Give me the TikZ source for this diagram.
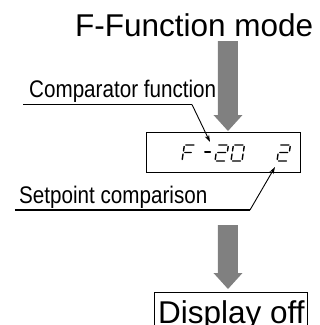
\documentclass[tikz,border=0pt]{standalone}
\usepackage{fontspec}
\setmainfont{Liberation Sans}
\newfontfamily\narrowfont[FakeStretch=0.86]{Liberation Sans}
\usetikzlibrary{arrows.meta}
\definecolor{arrowgray}{HTML}{808080}
\tikzset{
  lbl/.style={inner sep=0pt, anchor=base west},
  bigtext/.style={lbl, font=\fontsize{31.5}{31.5}\selectfont},
  smalltext/.style={lbl, font=\narrowfont\fontsize{24}{24}\selectfont},
  blockarrow/.style={fill=arrowgray},
  uline/.style={line width=1.6pt},
  pointer/.style={line width=0.9pt, -{Stealth[length=7pt,width=4.5pt]}},
  seg/.style={line width=1.4pt, line cap=round},
  segF/.pic={\draw[seg] (0,1.5)--(0,7) (0,10)--(0,14.5) (1.5,16)--(9.5,16) (1.5,8.5)--(8,8.5);},
  segDash/.pic={\draw[seg] (0,9)--(5.5,9);},
  segTwo/.pic={\draw[seg] (1.5,16)--(9.5,16) (11,14.5)--(11,10) (1.5,8.5)--(9.5,8.5) (0,7)--(0,1.5) (1.5,0)--(9.5,0);},
  segZero/.pic={\draw[seg] (1.5,16)--(9.5,16) (11,14.5)--(11,10) (11,7)--(11,1.5) (1.5,0)--(9.5,0) (0,1.5)--(0,7) (0,10)--(0,14.5);},
}
\begin{document}
\begin{tikzpicture}[x=1pt,y=-1pt]
\useasboundingbox (0,0) rectangle (320,325);

% title
\node[bigtext] (title) at (75,36) {F-Function mode};

% top block arrow
\fill[blockarrow] (218,41) -- (238,41) -- (238,115) -- (242.5,115) -- (228,131) -- (213.5,115) -- (218,115) -- cycle;

% display box
\node[draw, line width=0.8pt, minimum width=154pt, minimum height=40pt, inner sep=0pt, anchor=north west] (disp) at (146,132) {};

% seven segment digits
\begin{scope}[shift={(182,161)}, x={(1pt,0pt)}, y={(0.15pt,1pt)}] \pic {segF}; \end{scope}
\begin{scope}[shift={(203.5,161)}, x={(1pt,0pt)}, y={(0.15pt,1pt)}] \pic {segDash}; \end{scope}
\begin{scope}[shift={(215,161)}, x={(1pt,0pt)}, y={(0.15pt,1pt)}] \pic {segTwo}; \end{scope}
\begin{scope}[shift={(231,161)}, x={(1pt,0pt)}, y={(0.15pt,1pt)}] \pic {segZero}; \end{scope}
\begin{scope}[shift={(277,161)}, x={(1pt,0pt)}, y={(0.15pt,1pt)}] \pic {segTwo}; \end{scope}

% comparator label
\node[smalltext] (cmp) at (29,97) {Comparator function};
\coordinate (cmpA) at (23,104.5);
\coordinate (cmpB) at (192,104.5);
\coordinate (cmpTip) at (210,142);
\draw[uline] (cmpA) -- (cmpB);
\draw[pointer] (cmpB) -- (cmpTip);

% setpoint label
\node[smalltext] (set) at (19,203) {Setpoint comparison};
\coordinate (setA) at (15,210);
\coordinate (setB) at (250,210);
\coordinate (setTip) at (275,167);
\draw[uline] (setA) -- (setB);
\draw[pointer] (setB) -- (setTip);

% bottom block arrow
\fill[blockarrow] (218,225) -- (238,225) -- (238,273) -- (242.5,273) -- (228,289) -- (213.5,273) -- (218,273) -- cycle;

% display off box
\node[draw, line width=0.8pt, minimum width=153pt, minimum height=45pt, inner sep=0pt, anchor=north west] (offbox) at (154,292) {};
\node[bigtext] (offtxt) at (158,323) {Display off};
\end{tikzpicture}
\end{document}
